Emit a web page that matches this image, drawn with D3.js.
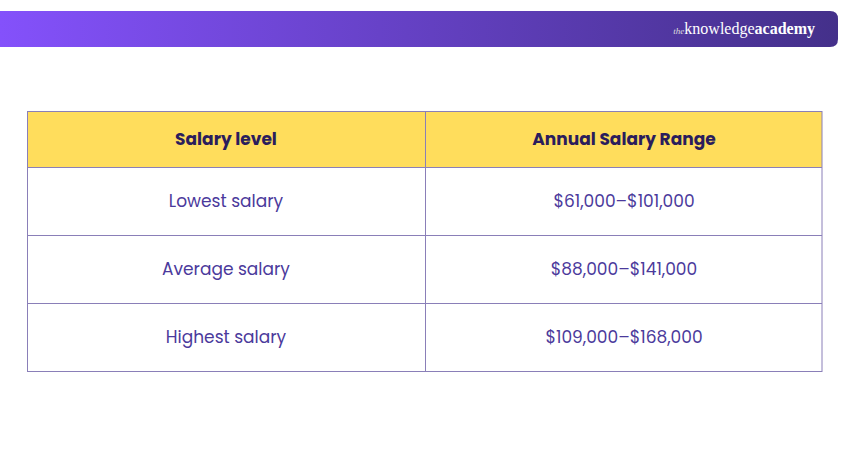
<!DOCTYPE html>
<html><head><meta charset="utf-8">
<script src="https://cdn.jsdelivr.net/npm/d3@7/dist/d3.min.js"></script>
<style>body{margin:0;background:#fff}</style></head>
<body><svg id="c" width="850" height="450"></svg>
<script>
const headers = ["Salary level", "Annual Salary Range"];
const levels = ["Lowest salary", "Average salary", "Highest salary"];
const ranges = ["$61,000–$101,000", "$88,000–$141,000", "$109,000–$168,000"];

const svg = d3.select("#c");
const defs = svg.append("defs");
const g = defs.append("linearGradient").attr("id","gr");
g.append("stop").attr("offset","0%").attr("stop-color","#8451fb");
g.append("stop").attr("offset","100%").attr("stop-color","#44308a");
svg.append("path").attr("d","M0,11 H830 Q838,11 838,19 V39 Q838,47 830,47 H0 Z").attr("fill","url(#gr)");
const logo = svg.append("text").attr("x",815).attr("y",34).attr("text-anchor","end")
  .attr("font-family","Liberation Serif, serif").attr("fill","#fff");
logo.append("tspan").attr("font-size",9).attr("font-style","italic").attr("fill","#ddd").text("the");
logo.append("tspan").attr("font-size",16).text("knowledge");
logo.append("tspan").attr("font-size",16).attr("font-weight","bold").text("academy");

const x = d3.scaleBand().domain([0,1]).range([27,823]);
const rowH = 68, headH = 56, tableTop = 111;
const y = d3.scaleBand().domain(levels).range([tableTop+headH, tableTop+headH+rowH*levels.length]);

svg.append("rect").attr("x",27).attr("y",tableTop).attr("width",795).attr("height",headH).attr("fill","#ffdd5c");
const font = "Poppins, Inter, 'Open Sans', sans-serif";
headers.forEach((h,i)=>{
  svg.append("text").attr("x",x(i)+x.bandwidth()/2).attr("y",tableTop+headH/2).attr("dy","0.35em")
    .attr("text-anchor","middle").attr("font-family",font).attr("font-weight","bold").attr("font-size",17)
    .attr("fill","#2b1d5c").text(h);
});
const cols = [levels, ranges];
cols.forEach((col,i)=>col.forEach((t,j)=>{
  svg.append("text").attr("x",x(i)+x.bandwidth()/2).attr("y",y(levels[j])+rowH/2).attr("dy","0.35em")
    .attr("text-anchor","middle").attr("font-family",font).attr("font-size",17)
    .attr("fill","#4b3a9c").text(t);
}));
const lc = "#8a7fb8";
svg.append("rect").attr("x",27.5).attr("y",tableTop+0.5).attr("width",794.5).attr("height",headH+rowH*3)
  .attr("fill","none").attr("stroke",lc);
svg.append("line").attr("x1",425.5).attr("x2",425.5).attr("y1",tableTop).attr("y2",tableTop+headH+rowH*3).attr("stroke",lc);
[tableTop+headH, ...levels.slice(1).map(l=>y(l))].forEach(v=>
  svg.append("line").attr("x1",27).attr("x2",822).attr("y1",v+0.5).attr("y2",v+0.5).attr("stroke",lc));
</script></body></html>
